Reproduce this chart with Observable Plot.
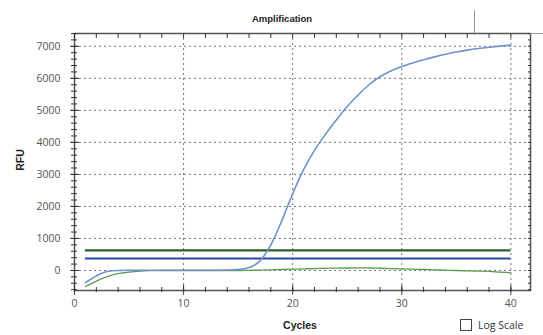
<!DOCTYPE html>
<html><head><meta charset="utf-8">
<script src="https://cdn.jsdelivr.net/npm/d3@7"></script>
<script src="https://cdn.jsdelivr.net/npm/@observablehq/plot@0.6"></script>
<style>
body{margin:0;background:#fff;}
#wrap{position:relative;width:543px;height:335px;overflow:hidden;font-family:"Liberation Sans",Arial,sans-serif;}
#wrap svg{position:absolute;left:0;top:0;}
.ov{position:absolute;white-space:nowrap;color:#222;}
#title{left:282px;top:18px;transform:translate(-50%,-50%);font-weight:bold;font-size:9.5px;}
#xlab{left:300px;top:325px;transform:translate(-50%,-50%);font-weight:bold;font-size:10.5px;}
#ylab{left:20px;top:160px;transform:translate(-50%,-50%) rotate(-90deg);font-weight:bold;font-size:10.5px;}
#logbox{left:460px;top:319px;width:10px;height:10px;border:1.5px solid #444;background:#fff;}
#logtxt{left:478px;top:325px;transform:translateY(-50%);font-family:"Open Sans",sans-serif;font-size:10.5px;color:#333;}
#vline{left:474px;top:10px;width:1px;height:23px;background:#999;}
#hline{left:530px;top:33px;width:13px;height:1px;background:#999;}
</style></head><body>
<div id="wrap">
  <div class="ov" id="title">Amplification</div>
  <div class="ov" id="xlab">Cycles</div>
  <div class="ov" id="ylab">RFU</div>
  <div class="ov" id="logbox"></div>
  <div class="ov" id="logtxt">Log Scale</div>
  <div class="ov" id="vline"></div>
  <div class="ov" id="hline"></div>
</div>
<script>
const cycles = [1,2,3,4,5,6,7,8,9,10,11,12,13,14,15,16,17,18,19,20,21,22,23,24,25,26,27,28,29,30,31,32,33,34,35,36,37,38,39,40];
const wellBlueRFU = [-380,-170,-30,0,5,5,5,5,5,5,5,5,5,10,30,90,300,800,1550,2400,3150,3750,4250,4700,5120,5480,5800,6050,6230,6370,6480,6580,6670,6750,6820,6880,6930,6970,7005,7035];
const wellGreenRFU = [-500,-330,-190,-100,-50,-20,-5,0,0,0,0,0,0,0,0,5,10,20,30,40,50,60,68,75,78,80,78,70,60,50,40,30,20,10,0,-10,-20,-30,-50,-70];
const thresholdValues = [625, 375];
const thresholdColors = ["#2f5a2c", "#2b46a4"];
const xTicks = [0,10,20,30,40];
const xMinorTicks = [0,2,4,6,8,10,12,14,16,18,20,22,24,26,28,30,32,34,36,38,40];
const yTicks = [0,1000,2000,3000,4000,5000,6000,7000];
const yMinorTicks = d3.range(-600, 7401, 200);

const blueRows = cycles.map((c, i) => ({cycle: c, rfu: wellBlueRFU[i]}));
const greenRows = cycles.map((c, i) => ({cycle: c, rfu: wellGreenRFU[i]}));
const thrRows = thresholdValues.map((v, i) => ({value: v, color: thresholdColors[i]}));

const gridStyle = {stroke: "#777", strokeOpacity: 1, strokeWidth: 1, strokeDasharray: "2,3"};
const chart = Plot.plot({
  width: 543, height: 335,
  marginLeft: 74, marginRight: 13, marginTop: 33, marginBottom: 45,
  style: {fontFamily: "'Open Sans', sans-serif", background: "transparent"},
  x: {domain: [0, 41.8]},
  y: {domain: [-625, 7400]},
  marks: [
    Plot.gridX(xTicks.slice(1), gridStyle),
    Plot.gridY(yTicks, gridStyle),
    ...thrRows.map(t => Plot.ruleY([t.value], {x1: cycles[0], x2: cycles[cycles.length - 1], stroke: t.color, strokeWidth: 2.2})),
    Plot.line(greenRows, {x: "cycle", y: "rfu", stroke: "#5c9a55", strokeWidth: 1.3, curve: "monotone-x"}),
    Plot.line(blueRows, {x: "cycle", y: "rfu", stroke: "#6f92cc", strokeWidth: 1.6, curve: "monotone-x"}),
    Plot.frame({stroke: "#555", strokeWidth: 1.5}),
    Plot.axisX(xTicks, {anchor: "bottom", tickSize: 5, tickPadding: 4, fontSize: 10.5, color: "#555", label: null, tickFormat: d3.format("d")}),
    Plot.axisX(xTicks, {anchor: "bottom", tickSize: -5, tickFormat: () => "", color: "#333", label: null}),
    Plot.axisX(xMinorTicks, {anchor: "bottom", tickSize: -3, tickFormat: () => "", color: "#333", label: null}),
    Plot.axisX(xMinorTicks, {anchor: "bottom", tickSize: 2, tickFormat: () => "", color: "#333", label: null}),
    Plot.axisX(xMinorTicks, {anchor: "top", tickSize: -4, tickFormat: () => "", color: "#333", label: null}),
    Plot.axisY(yTicks, {anchor: "left", tickSize: 4, tickPadding: 10, fontSize: 10.5, color: "#555", label: null, tickFormat: d3.format("d")}),
    Plot.axisY(yTicks, {anchor: "left", tickSize: -5, tickFormat: () => "", color: "#333", label: null}),
    Plot.axisY(yMinorTicks, {anchor: "left", tickSize: 3, tickFormat: () => "", color: "#333", label: null}),
    Plot.axisY(yMinorTicks, {anchor: "left", tickSize: -3, tickFormat: () => "", color: "#333", label: null}),
    Plot.axisY(yMinorTicks, {anchor: "right", tickSize: -3, tickFormat: () => "", color: "#333", label: null})
  ]
});
document.getElementById("wrap").prepend(chart);
</script>
</body></html>
